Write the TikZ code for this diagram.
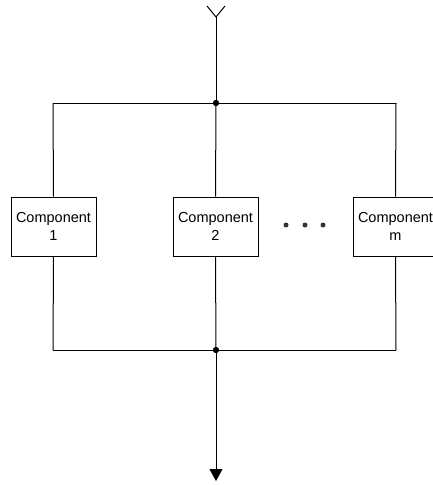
\documentclass[tikz,border=0pt]{standalone}
\usepackage{fontspec}
\setmainfont{Liberation Sans}
\usetikzlibrary{arrows.meta}
\begin{document}
\begin{tikzpicture}[x=1pt,y=-1pt,line width=1pt,
  comp/.style={draw,fill=white,minimum width=85pt,minimum height=59pt,inner sep=0pt,
    align=center,font=\fontsize{14.5pt}{18pt}\selectfont},
  junc/.style={circle,fill=black,inner sep=0pt,minimum size=6pt},
  edot/.style={circle,fill=black!80,inner sep=0pt,minimum size=5pt}]
\useasboundingbox (0,0) rectangle (433,485);
\coordinate (yv) at (216,17);
\coordinate (yl) at (207,6);
\coordinate (yr) at (225,6);
\node[junc] (jt) at (216,103) {};
\node[junc] (jb) at (216,350) {};
\coordinate (tl) at (53,103);
\coordinate (tr) at (396,103);
\coordinate (bl) at (53,350);
\coordinate (br) at (396,350);
\coordinate (out) at (216,481);
\node[comp] (c1) at (53.5,226.5) {Component\\1};
\node[comp] (c2) at (215.5,226.5) {Component\\2};
\node[comp] (cm) at (395.5,226.5) {Component\\m};
\node[edot] (d1) at (286,225) {};
\node[edot] (d2) at (305,225) {};
\node[edot] (d3) at (323,225) {};
\draw (yl) -- (yv) -- (yr);
\draw (yv) -- (jt.center);
\draw (tl) -- (tr);
\draw (bl) -- (br);
\draw (tl) -- (c1.north);
\draw (jt.center) -- (c2.north);
\draw (tr) -- (cm.north);
\draw (c1.south) -- (bl);
\draw (c2.south) -- (jb.center);
\draw (cm.south) -- (br);
\draw[-{Triangle[width=13pt,length=12pt]}] (jb.center) -- (out);
\node[junc] at (jt.center) {};
\node[junc] at (jb.center) {};
\end{tikzpicture}
\end{document}
